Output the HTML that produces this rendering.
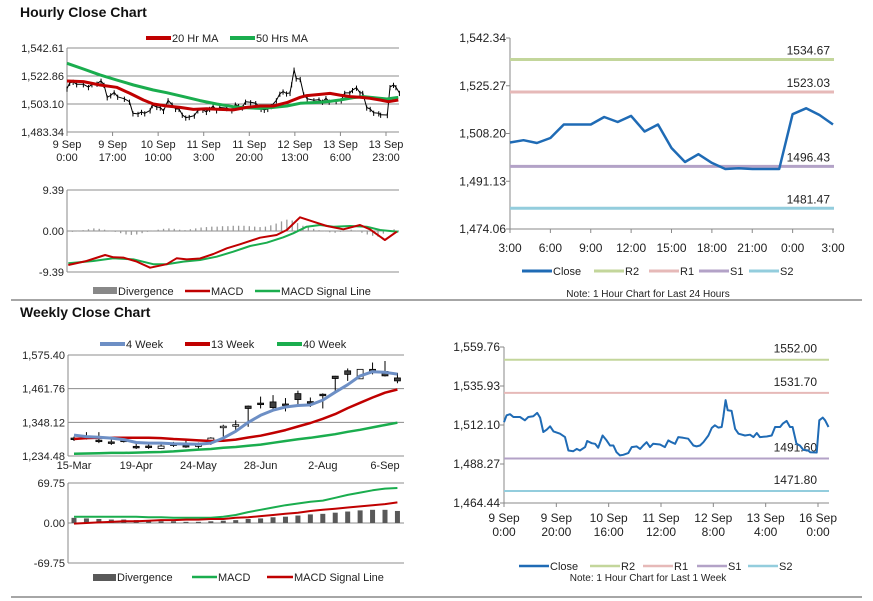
<!DOCTYPE html>
<html><head><meta charset="utf-8"><style>
html,body{margin:0;padding:0;background:#fff;}
svg{display:block;font-family:"Liberation Sans",Arial,sans-serif;}
</style></head><body>
<svg id="root" width="873" height="601" viewBox="0 0 873 601" xmlns="http://www.w3.org/2000/svg">
<text x="20" y="17" font-size="14" font-weight="bold" fill="#111">Hourly Close Chart</text>
<text x="20" y="317" font-size="14" font-weight="bold" fill="#111">Weekly Close Chart</text>
<line x1="11" y1="300" x2="862" y2="300" stroke="#888" stroke-width="1.5"/>
<line x1="11" y1="597" x2="862" y2="597" stroke="#888" stroke-width="1.5"/>
</svg>
<script>
// ---------- DATA ----------
const hourTickLabels1=["9 Sep|0:00","9 Sep|17:00","10 Sep|10:00","11 Sep|3:00","11 Sep|20:00","12 Sep|13:00","13 Sep|6:00","13 Sep|23:00"];
const hourTickHours1=[0,17,34,51,68,85,102,119];
const priceTicks1=[1542.61,1522.86,1503.10,1483.34];
const ma20Hours=[0,6.1,12.3,18.5,23.5,28.5,32.2,37.2,42.2,47.1,52.1,57,62,67,72,77,82,87,89.4,94.4,98.1,101.8,105.6,109.3,113,116.8,119.9,123.6];
const ma20Values=[1519.3,1518.9,1516.5,1514.9,1510.6,1505.9,1503.1,1501.7,1500.7,1499.3,1499.8,1499.3,1498.9,1500.7,1501.7,1501.7,1504.1,1507.8,1509.0,1509.9,1510.6,1509.4,1508.3,1507.8,1507.1,1505.9,1504.7,1505.9];
const ma50Hours=[0,6.1,12.3,18.5,24.8,32.2,37.2,43.4,49.6,55.8,62,67,72,77,82,87,92,96.9,101.8,106.8,110.6,114.3,119.3,123.6];
const ma50Values=[1531.8,1527.8,1523.6,1520.0,1516.5,1513.0,1511.1,1508.3,1505.5,1503.1,1501.2,1500.5,1500.0,1500.7,1501.7,1503.6,1504.1,1504.7,1505.9,1507.6,1508.3,1507.6,1506.6,1507.8];
const closeHours=[0,1,2.3,3.6,6.1,8,9.3,11.2,12.7,13.8,15,16.3,17.6,18.9,21.4,23.3,24.6,26.5,27.8,29,31,31.8,33.5,34.8,36,37.7,39.2,40.5,41.8,43,44.3,45.6,47.5,48.8,50.7,52,53.2,54.5,55.8,57,59.6,61.5,62.8,64,65.4,66.6,68.5,70.4,72.4,73.6,74.9,76.2,78.1,79.4,80.6,81.9,83.2,83.8,84.7,85.5,87,88.3,89.6,92.1,94,95.3,96.6,97.8,100.4,102.3,103.6,105.5,106.5,108,109.3,110.3,111.8,113.1,114.4,116.3,117,119.5,120.5,121.8,122.7,124];
const closeValues=[1513.9,1518.0,1518.7,1517.0,1517.0,1515.0,1517.0,1517.4,1519.5,1516.6,1507.8,1509.2,1511.3,1508.2,1506.8,1504.7,1496.5,1496.1,1497.5,1496.5,1498.6,1502.3,1501.0,1500.6,1498.2,1505.7,1502.7,1499.6,1499.6,1495.5,1493.5,1493.9,1494.9,1498.6,1499.0,1497.5,1499.6,1501.6,1498.6,1500.6,1500.2,1498.6,1502.7,1501.6,1500.6,1504.7,1504.3,1503.7,1499.6,1499.0,1499.6,1501.6,1505.7,1510.3,1511.9,1510.5,1510.9,1517.0,1527.3,1521.1,1520.7,1509.8,1506.8,1505.7,1506.2,1504.7,1507.2,1504.7,1505.1,1505.7,1510.9,1510.9,1512.9,1514.6,1510.9,1510.9,1500.6,1499.6,1496.9,1496.5,1495.5,1495.3,1515.0,1516.6,1515.0,1510.9];
const macdTicks1=[9.39,0,-9.39];
const macdHours1=[0.5,7.3,14.2,17.3,21,26,31,37.2,40.9,44.7,49.6,54.6,59.6,64.5,72,78.2,82,86.9,91.9,96.9,103.1,109.3,113,118.6,123];
const macdValues1=[-7.79,-6.87,-5.5,-6.03,-6.1,-7.0,-8.4,-7.6,-6.26,-6.5,-6.3,-5.27,-3.97,-3.05,-1.53,-0.92,0.23,3.13,2.14,1.15,0.38,1.37,0.38,-2.06,-0.15];
const signalHours1=[0.5,9.8,17.3,24.8,32.2,37.2,43.4,49.6,55.8,62,68.3,74.5,80.7,84.4,89.4,94.4,99.4,105.6,111.8,116.8,123.6];
const signalValues1=[-7.4,-6.87,-6.26,-6.5,-7.6,-7.6,-7.0,-6.64,-5.88,-4.74,-3.44,-2.67,-1.45,-0.53,0.99,1.37,0.99,1.15,0.99,0.23,-0.15];
const divergence1=[-0.3,-0.2,0,0.2,0.4,0.6,0.5,0.3,0,-0.2,-0.5,-0.8,-0.9,-0.8,-0.5,-0.2,0.1,0.3,0.5,0.6,0.5,0.3,0.2,0.4,0.6,0.8,0.9,1.0,1.0,1.1,1.1,1.2,1.2,1.2,1.1,1.0,0.9,1.0,1.3,1.7,2.2,2.6,2.4,1.8,1.2,0.8,0.5,0.2,-0.1,-0.3,-0.4,-0.2,0.1,0.3,0.1,-0.4,-0.8,-1.1,-1.3,-0.6,0.2,0.4];

const pivotTicks2=[1542.34,1525.27,1508.20,1491.13,1474.06];
const pivotHourLabels2=["3:00","6:00","9:00","12:00","15:00","18:00","21:00","0:00","3:00"];
const pivotClose2=[1505.0,1505.8,1504.8,1506.6,1511.4,1511.4,1511.4,1514.1,1512.3,1514.5,1508.9,1511.4,1503.0,1498.0,1500.8,1497.7,1495.5,1495.8,1495.5,1495.5,1495.5,1515.1,1517.2,1514.8,1511.4];
const pivotLevels2=[1534.67,1523.03,1496.43,1481.47];

const weekLabels3=["15-Mar","19-Apr","24-May","28-Jun","2-Aug","6-Sep"];
const weekLabelIdx3=[0,5,10,15,20,25];
const priceTicks3=[1575.40,1461.76,1348.12,1234.48];
const wOpen=[1295,1297,1288,1282,1288,1267,1268,1260,1275,1270,1270,1280,1330,1337,1403,1413,1417,1410,1445,1418,1443,1504,1522,1495,1527,1520,1498];
const wClose=[1292,1300,1285,1280,1285,1262,1266,1268,1273,1268,1272,1295,1335,1340,1395,1410,1398,1408,1425,1416,1440,1496,1510,1527,1520,1505,1488];
const wHigh=[1300,1315,1315,1290,1295,1278,1280,1275,1282,1290,1280,1298,1340,1355,1405,1435,1440,1430,1455,1432,1446,1505,1530,1527,1550,1555,1515];
const wLow=[1285,1290,1278,1272,1280,1258,1258,1258,1265,1262,1260,1272,1300,1320,1333,1395,1385,1385,1405,1400,1395,1450,1488,1495,1510,1503,1480];
const ma4w=[1305,1300,1298,1295,1290,1280,1278,1278,1276,1275,1274,1278,1295,1318,1348,1372,1389,1400,1405,1407,1423,1450,1475,1505,1519,1517,1511];
const ma13w=[1292,1295,1296,1296,1296,1296,1296,1295,1292,1290,1287,1285,1286,1290,1297,1303,1312,1322,1334,1346,1360,1376,1396,1414,1432,1448,1459];
const ma40w=[1242,1243,1244,1245,1245,1246,1247,1248,1250,1253,1256,1258,1262,1265,1269,1273,1279,1285,1291,1296,1302,1308,1316,1323,1331,1339,1347];
const macdTicks3=[69.75,0,-69.75];
const wDivergence=[9,8,7,6,6,5,4,3,3,2,2,3,4,5,7,8,10,11,13,15,16,18,20,22,23,23,21];
const wMacd=[11,11,11,11,11,11,10,10,9,9,9,9,11,14,19,23,27,31,34,37,39,44,49,53,57,60,61];
const wSignal=[-1,0,1,2,3,3,4,5,5,6,6,7,7,9,10,12,14,16,18,21,23,25,27,29,31,33,36];

const pivotTicks4=[1559.76,1535.93,1512.10,1488.27,1464.44];
const pivotLabels4=["9 Sep|0:00","9 Sep|20:00","10 Sep|16:00","11 Sep|12:00","12 Sep|8:00","13 Sep|4:00","16 Sep|0:00"];
const pivotLabelHours4=[0,20,40,60,80,100,120];
const pivotLevels4=[1552.00,1531.70,1491.60,1471.80];

// ---------- helpers ----------
const NS="http://www.w3.org/2000/svg";
const root=document.getElementById('root');
function mk(tag,attrs,parent){const el=document.createElementNS(NS,tag);for(const k in attrs)el.setAttribute(k,attrs[k]);(parent||root).appendChild(el);return el;}
function lin(d0,d1,r0,r1){return v=>r0+(v-d0)/(d1-d0)*(r1-r0);}
function fmt(v){return v.toLocaleString('en-US',{minimumFractionDigits:2,maximumFractionDigits:2});}
function txt(x,y,s,size,anchor,fill){const t=mk('text',{x:x,y:y,'font-size':size,'text-anchor':anchor||'start',fill:fill||'#222'});t.textContent=s;return t;}
function poly(xs,ys,xf,yf,color,w){const pts=xs.map((h,i)=>xf(h).toFixed(1)+','+yf(ys[i]).toFixed(1)).join(' ');return mk('polyline',{points:pts,fill:'none',stroke:color,'stroke-width':w,'stroke-linejoin':'round'});}
function yAxis(ticks,yf,x0,x1,name){ticks.forEach(t=>{const l=mk('line',{x1:x0,y1:yf(t),x2:x1,y2:yf(t),stroke:'#8c8c8c','stroke-width':1});


const tx=txt(x0-3,yf(t)+4,fmt(t),11,'end');

});}
function legendLine(x,y,len,color,w,label,name){const l=mk('line',{x1:x,y1:y,x2:x+len,y2:y,stroke:color,'stroke-width':w});


const t=txt(x+len+1,y+4,label,11,'start');

}

// ---------- Panel 1: hourly price ----------
{const xf=lin(0,119,67,386), yf=lin(1483.34,1542.61,132,48);
yAxis(priceTicks1,yf,67,399,'hourly-price');
mk('line',{x1:67,y1:48,x2:67,y2:132,stroke:'#888'});
hourTickHours1.forEach((h,i)=>{const [a,b]=hourTickLabels1[i].split('|');
const tk=mk('line',{x1:xf(h),y1:132,x2:xf(h),y2:136,stroke:'#888'});


const t1=txt(xf(h),148,a,11,'middle');


const t2=txt(xf(h),161,b,11,'middle');

});
const c=poly(closeHours,closeValues,xf,yf,'#000',1);


closeHours.forEach((h,i)=>{const b=mk('line',{x1:xf(h),y1:yf(closeValues[i]+1.5),x2:xf(h),y2:yf(closeValues[i]-2.2),stroke:'#000','stroke-width':1});

});
const g=poly(ma50Hours,ma50Values,xf,yf,'#1aad4e',3);


const r=poly(ma20Hours,ma20Values,xf,yf,'#c00000',3);


legendLine(146,38,25,'#c00000',4,'20 Hr MA','legend-ma20');
legendLine(230,38,25,'#1aad4e',4,'50 Hrs MA','legend-ma50');}

// ---------- Panel 1b: hourly MACD ----------
{const xf=lin(0,119,67,386), yf=lin(-9.39,9.39,272,190);
yAxis(macdTicks1,yf,67,399,'hourly-macd');
mk('line',{x1:67,y1:190,x2:67,y2:272,stroke:'#888'});
divergence1.forEach((v,i)=>{const x=xf(i*2);const b=mk('rect',{x:x-0.6,y:Math.min(yf(v),yf(0)),width:1.3,height:Math.max(0.5,Math.abs(yf(v)-yf(0))),fill:'#999'});

});
const s=poly(signalHours1,signalValues1,xf,yf,'#1aad4e',2);


const m=poly(macdHours1,macdValues1,xf,yf,'#c00000',2);


const db=mk('rect',{x:93,y:287,width:24,height:7,fill:'#888'});


const dt=txt(118,295,'Divergence',11);


legendLine(185,291,25,'#c00000',2.5,'MACD','legend-macd');
legendLine(255,291,25,'#1aad4e',2.5,'MACD Signal Line','legend-macd-signal');}

// ---------- Panel 2: 24h pivot ----------
{const xf=lin(0,24,510,833), yf=lin(1474.06,1542.34,229,38);
pivotTicks2.forEach(t=>{const tx=txt(506,yf(t)+4,fmt(t),12,'end');


const tk=mk('line',{x1:506,y1:yf(t),x2:510,y2:yf(t),stroke:'#888'});

});
mk('line',{x1:510,y1:38,x2:510,y2:229,stroke:'#888'});
mk('line',{x1:510,y1:229,x2:834,y2:229,stroke:'#888'});
pivotHourLabels2.forEach((s,i)=>{const h=i*3;const t=txt(xf(h),252,s,12,'middle');


const tk=mk('line',{x1:xf(h),y1:229,x2:xf(h),y2:233,stroke:'#888'});

});
const cols=['#c3d69b','#e6b9b8','#b3a2c7','#93cddd'];const nm=['r2','r1','s1','s2'];
pivotLevels2.forEach((v,i)=>{const l=mk('line',{x1:510,y1:yf(v),x2:834,y2:yf(v),stroke:cols[i],'stroke-width':3});


const t=txt(830,yf(v)-5,v.toFixed(2),12,'end');

});
const c=poly(pivotClose2.map((v,i)=>i),pivotClose2,xf,yf,'#1f6bb5',2.5);


legendLine(522,271,30,'#1f6bb5',3,'Close','pivot24-legend-close');
legendLine(594,271,30,'#c3d69b',3,'R2','pivot24-legend-r2');
legendLine(649,271,30,'#e6b9b8',3,'R1','pivot24-legend-r1');
legendLine(699,271,30,'#b3a2c7',3,'S1','pivot24-legend-s1');
legendLine(749,271,30,'#93cddd',3,'S2','pivot24-legend-s2');
const n=txt(648,297,'Note: 1 Hour Chart for Last 24 Hours',10,'middle');

}

// ---------- Panel 3: weekly price ----------
{const xf=lin(0,25,74,385), yf=lin(1234.48,1575.40,456,355);
yAxis(priceTicks3,yf,68,404,'weekly-price');
mk('line',{x1:68,y1:355,x2:68,y2:456,stroke:'#888'});
weekLabelIdx3.forEach((k,i)=>{const t=txt(xf(k),469,weekLabels3[i],11,'middle');

});
wOpen.forEach((o,i)=>{const x=xf(i);const w=mk('line',{x1:x,y1:yf(wHigh[i]),x2:x,y2:yf(wLow[i]),stroke:'#000','stroke-width':1});


const up=wClose[i]>=o;const top=yf(Math.max(o,wClose[i])),bot=yf(Math.min(o,wClose[i]));
const b=mk('rect',{x:x-3,y:top,width:6,height:Math.max(1.5,bot-top),fill:up?'#fff':'#404040',stroke:'#000','stroke-width':0.8});

});
const idx=ma4w.map((v,i)=>i);
const g=poly(idx,ma40w,xf,yf,'#1aad4e',2.5);


const r=poly(idx,ma13w,xf,yf,'#c00000',2.5);


const bl=poly(idx,ma4w,xf,yf,'#6d8fc5',3);


legendLine(100,344,25,'#6d8fc5',4,'4 Week','legend-4-week');
legendLine(185,344,25,'#c00000',4,'13 Week','legend-13-week');
legendLine(277,344,25,'#1aad4e',4,'40 Week','legend-40-week');}

// ---------- Panel 3b: weekly MACD ----------
{const xf=lin(0,25,74,385), yf=lin(-69.75,69.75,563,483);
yAxis(macdTicks3,yf,68,404,'weekly-macd');
mk('line',{x1:68,y1:483,x2:68,y2:563,stroke:'#888'});
wDivergence.forEach((v,i)=>{const b=mk('rect',{x:xf(i)-2.5,y:Math.min(yf(v),yf(0)),width:5,height:Math.abs(yf(v)-yf(0)),fill:'#595959'});

});
const idx=wMacd.map((v,i)=>i);
const m=poly(idx,wMacd,xf,yf,'#1aad4e',2);


const s=poly(idx,wSignal,xf,yf,'#c00000',2);


const db=mk('rect',{x:93,y:574,width:23,height:7,fill:'#595959'});


const dt=txt(117,581,'Divergence',11);


legendLine(192,577,25,'#1aad4e',2.5,'MACD','weekly-legend-macd');
legendLine(267,577,26,'#c00000',2.5,'MACD Signal Line','weekly-legend-macd-signal');}

// ---------- Panel 4: week pivot ----------
{const xf=lin(0,120,504,818), yf=lin(1464.44,1559.76,503,347);
pivotTicks4.forEach(t=>{const tx=txt(500,yf(t)+4,fmt(t),12,'end');


const tk=mk('line',{x1:500,y1:yf(t),x2:504,y2:yf(t),stroke:'#888'});

});
mk('line',{x1:504,y1:347,x2:504,y2:503,stroke:'#888'});
mk('line',{x1:504,y1:503,x2:829,y2:503,stroke:'#888'});
pivotLabelHours4.forEach((h,i)=>{const [a,b]=pivotLabels4[i].split('|');
const tk=mk('line',{x1:xf(h),y1:503,x2:xf(h),y2:507,stroke:'#888'});


const t1=txt(xf(h),522,a,12,'middle');


const t2=txt(xf(h),536,b,12,'middle');

});
const cols=['#c3d69b','#e6b9b8','#b3a2c7','#93cddd'];const nm=['r2','r1','s1','s2'];
pivotLevels4.forEach((v,i)=>{const l=mk('line',{x1:504,y1:yf(v),x2:829,y2:yf(v),stroke:cols[i],'stroke-width':2});


const t=txt(817,yf(v)-7,v.toFixed(2),12,'end');

});
const c=poly(closeHours,closeValues,xf,yf,'#1f6bb5',2);


legendLine(519,566,30,'#1f6bb5',2.5,'Close','pivotweek-legend-close');
legendLine(590,566,30,'#c3d69b',2.5,'R2','pivotweek-legend-r2');
legendLine(643,566,30,'#e6b9b8',2.5,'R1','pivotweek-legend-r1');
legendLine(697,566,30,'#b3a2c7',2.5,'S1','pivotweek-legend-s1');
legendLine(748,566,30,'#93cddd',2.5,'S2','pivotweek-legend-s2');
const n=txt(648,581,'Note: 1 Hour Chart for Last 1 Week',10,'middle');

}
</script>
</body></html>
